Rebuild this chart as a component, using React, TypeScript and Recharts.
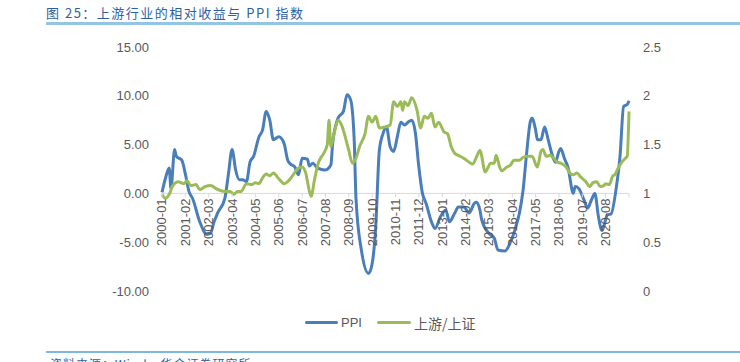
import React from 'react';
import { LineChart, Line, XAxis, YAxis, ReferenceLine } from 'recharts';

// month index: 0 = 2000-01
const ppiMonths = [
  0, 2, 4, 5, 7, 8, 11, 13, 15, 17, 21, 25, 27, 29, 31, 35, 37, 39, 41, 43, 45, 47, 49, 51, 54, 56, 58, 60,
  62, 65, 68, 70, 71, 74, 76, 78, 81, 82, 84, 86, 88, 91, 94, 95, 98, 101, 103, 105, 107, 108, 111, 115, 117,
  119, 121, 123, 125, 127, 129, 131, 133, 135, 137, 139, 141, 143, 145, 147, 150, 152, 155, 158, 160, 163,
  165, 168, 171, 174, 175, 177, 178, 182, 185, 187, 191, 194, 197, 199, 201, 203, 205, 206, 208, 209, 211,
  213, 215, 217, 219, 221, 222, 224, 226, 229, 230, 232, 235, 237, 239, 241, 243, 245, 248, 250, 253, 255,
  257, 259, 260,
];
const ppiValues = [
  0.1, 1.6, 2.6, 0.5, 4.5, 3.8, 3.4, 2.0, 0.2, -0.5, -2.9, -4.2, -4.1, -2.9, -2.0, -0.5, 2.0, 4.5, 2.4, 1.4,
  1.4, 1.2, 3.2, 3.8, 5.8, 6.5, 8.4, 7.5, 5.5, 5.8, 5.1, 3.4, 3.1, 2.7, 1.9, 3.6, 3.5, 2.8, 3.1, 2.7, 2.5,
  2.4, 2.9, 5.1, 7.7, 8.4, 10.1, 9.6, 5.5, -0.5, -5.8, -8.2, -7.2, -3.4, 4.4, 6.1, 6.8, 4.8, 4.3, 5.8, 7.3,
  7.0, 7.3, 7.5, 6.3, 2.7, 0, -1.0, -2.9, -3.6, -2.4, -1.7, -2.9, -2.0, -1.4, -1.4, -2.0, -1.0, -0.9, -1.7,
  -2.7, -4.1, -4.6, -5.8, -5.9, -5.0, -3.4, -2.0, 0.3, 4.1, 7.3, 7.7, 6.5, 5.5, 5.5, 6.8, 5.5, 4.1, 3.2, 4.3,
  4.6, 3.6, 2.7, 0, 0.7, 0.5, -0.7, -1.5, -0.7, 0, -2.4, -3.8, -2.2, -2.1, 0.7, 3.8, 8.9, 9.1, 9.5,
];

const ratioMonths = [
  0, 2, 4, 6, 9, 12, 14, 16, 19, 21, 24, 27, 31, 35, 38, 40, 42, 44, 47, 50, 52, 54, 56, 58, 60, 62, 65, 68,
  70, 73, 76, 78, 80, 81, 83, 85, 87, 90, 92, 93, 94, 96, 98, 100, 102, 104, 106, 108, 110, 113, 115, 117,
  119, 121, 124, 127, 129, 131, 133, 134, 135, 137, 139, 142, 144, 146, 148, 150, 152, 154, 157, 159, 161,
  163, 165, 168, 171, 173, 175, 177, 180, 183, 185, 186, 188, 189, 192, 194, 196, 199, 201, 204, 206, 209,
  211, 212, 214, 216, 218, 220, 222, 225, 227, 229, 231, 233, 236, 238, 240, 242, 244, 246, 247, 249, 251,
  252, 254, 256, 258, 259, 260,
];
const ratioValues = [
  0.99, 0.95, 0.99, 1.08, 1.12, 1.1, 1.13, 1.08, 1.09, 1.04, 1.07, 1.08, 1.04, 1.02, 1.02, 0.99, 1.02, 1.02,
  1.1, 1.09, 1.11, 1.1, 1.16, 1.2, 1.18, 1.21, 1.15, 1.1, 1.12, 1.19, 1.26, 1.27, 1.21, 1.12, 0.97, 1.15,
  1.31, 1.41, 1.5, 1.75, 1.48, 1.63, 1.75, 1.7, 1.58, 1.44, 1.31, 1.36, 1.48, 1.61, 1.79, 1.73, 1.79, 1.67,
  1.68, 1.7, 1.94, 1.89, 1.94, 1.85, 1.94, 1.9, 1.98, 1.85, 1.67, 1.79, 1.77, 1.82, 1.68, 1.73, 1.63, 1.61,
  1.48, 1.41, 1.39, 1.36, 1.32, 1.3, 1.37, 1.44, 1.22, 1.31, 1.31, 1.39, 1.27, 1.23, 1.27, 1.29, 1.34, 1.34,
  1.37, 1.38, 1.38, 1.27, 1.43, 1.45, 1.38, 1.39, 1.36, 1.32, 1.31, 1.27, 1.21, 1.19, 1.21, 1.17, 1.12, 1.07,
  1.11, 1.12, 1.07, 1.08, 1.1, 1.09, 1.18, 1.19, 1.26, 1.32, 1.36, 1.38, 1.84,
];

const tickLabels = [
  '2000-01', '2001-02', '2002-03', '2003-04', '2004-05', '2005-06', '2006-07', '2007-08', '2008-09', '2009-10',
  '2010-11', '2011-12', '2013-01', '2014-02', '2015-03', '2016-04', '2017-05', '2018-06', '2019-07', '2020-08',
];
const tickStep = 13;
const lastMonth = 260;
const leftTicks = [-10, -5, 0, 5, 10, 15];
const rightTicks = [0, 0.5, 1, 1.5, 2, 2.5];

const ppiData = ppiMonths.map((m, i) => ({ m, v: ppiValues[i] }));
const ratioData = ratioMonths.map((m, i) => ({ m, v: ratioValues[i] }));
const xTicks = Array.from({ length: tickLabels.length + 1 }, (_, i) => i * tickStep);

const W = 740;
const H = 362;
const PLOT_TOP = 47;
const PLOT_BOTTOM = 291;
const PLOT_LEFT = 162;
const PLOT_RIGHT = 629;
const ZERO_Y = PLOT_TOP + ((PLOT_BOTTOM - PLOT_TOP) * 15) / 25;

const BLUE = '#4A7EBB';
const GREEN = '#9BBB59';
const GREY = '#595959';
const FONT = '"Liberation Sans", Arial, sans-serif';
const CJK = '"Noto Sans CJK SC", sans-serif';

function XTick(props: any) {
  const { x, payload } = props;
  const label = tickLabels[Math.round(payload.value / tickStep)] ?? '';
  const ty = ZERO_Y + 5;
  return (
    <g>
      <line x1={x} x2={x} y1={ZERO_Y} y2={ZERO_Y + 4} stroke="#d9d9d9" />
      <text
        x={x}
        y={ty}
        transform={`rotate(-90 ${x} ${ty})`}
        textAnchor="end"
        dominantBaseline="central"
        fontSize={13}
        fill={GREY}
        fontFamily={FONT}
      >
        {label}
      </text>
    </g>
  );
}

export default function App() {
  return (
    <div style={{ position: 'absolute', left: 0, top: 0, width: W, height: H, background: '#fff', overflow: 'hidden' }}>
      <div
        style={{
          position: 'absolute',
          left: 46,
          top: 3,
          fontSize: 13,
          letterSpacing: 1.5,
          color: '#2E5FA3',
          fontFamily: CJK,
          whiteSpace: 'nowrap',
        }}
      >
        图 25：上游行业的相对收益与 PPI 指数
      </div>
      <div style={{ position: 'absolute', left: 46, top: 22, width: W - 46, height: 3, background: '#92C5E3' }} />

      <div style={{ position: 'absolute', left: 0, top: 0 }}>
        <LineChart
          width={W}
          height={H}
          margin={{ top: PLOT_TOP, bottom: H - PLOT_BOTTOM - 30, left: PLOT_LEFT - 50, right: W - PLOT_RIGHT - 40 }}
        >
          <XAxis
            dataKey="m"
            type="number"
            domain={[0, lastMonth]}
            ticks={xTicks}
            interval={0}
            height={30}
            axisLine={false}
            tickLine={false}
            tick={<XTick />}
          />
          <YAxis
            yAxisId="left"
            width={50}
            domain={[-10, 15]}
            ticks={leftTicks}
            axisLine={false}
            tickLine={false}
            tickSize={0}
            tickMargin={13}
            tickFormatter={(v: number) => v.toFixed(2)}
            tick={{ fontSize: 13, fill: GREY, fontFamily: FONT }}
          />
          <YAxis
            yAxisId="right"
            orientation="right"
            width={40}
            domain={[0, 2.5]}
            ticks={rightTicks}
            axisLine={false}
            tickLine={false}
            tickSize={0}
            tickMargin={14}
            tick={{ fontSize: 13, fill: GREY, fontFamily: FONT }}
          />
          <ReferenceLine yAxisId="left" y={0} stroke="#d9d9d9" strokeWidth={1} />
          <Line
            yAxisId="left"
            data={ppiData}
            dataKey="v"
            type="monotone"
            stroke={BLUE}
            strokeWidth={3}
            dot={false}
            isAnimationActive={false}
          />
          <Line
            yAxisId="right"
            data={ratioData}
            dataKey="v"
            type="monotone"
            stroke={GREEN}
            strokeWidth={3}
            dot={false}
            isAnimationActive={false}
          />
        </LineChart>
      </div>

      <div style={{ position: 'absolute', left: 305, top: 314, height: 17, display: 'flex', alignItems: 'center', fontSize: 13, color: GREY }}>
        <span style={{ display: 'inline-block', width: 33, height: 3, background: BLUE, borderRadius: 2 }} />
        <span style={{ marginLeft: 3, fontFamily: FONT }}>PPI</span>
        <span style={{ display: 'inline-block', width: 34, height: 3, background: GREEN, marginLeft: 15, borderRadius: 2 }} />
        <span style={{ marginLeft: 3, fontFamily: CJK, fontSize: 14 }}>上游/上证</span>
      </div>

      <div style={{ position: 'absolute', left: 46, top: 351, width: W - 46, height: 2, background: '#7DB8E0' }} />
      <div
        style={{
          position: 'absolute',
          left: 50,
          top: 355,
          fontSize: 12,
          color: '#2E5FA3',
          fontFamily: CJK,
          whiteSpace: 'nowrap',
          letterSpacing: 1,
        }}
      >
        资料来源：Wind，华金证券研究所
      </div>
    </div>
  );
}
